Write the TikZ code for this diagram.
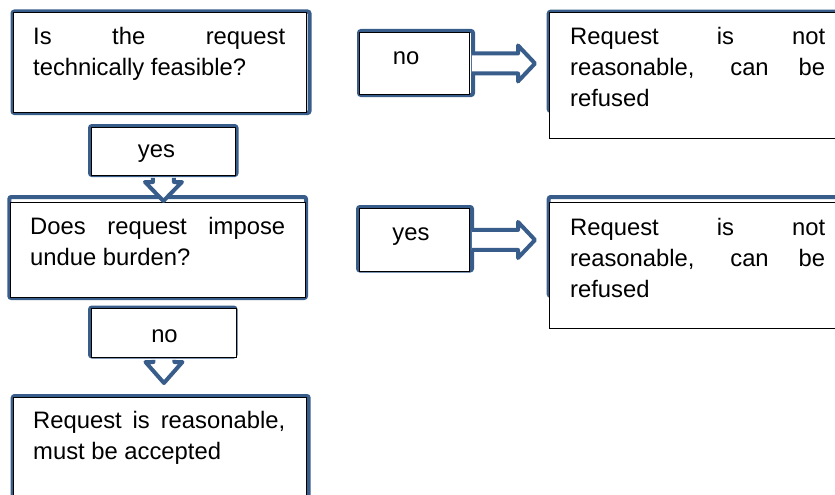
\documentclass[tikz,border=0pt]{standalone}
\usepackage{fontspec}
\setmainfont{Liberation Sans}
\usetikzlibrary{calc}
\definecolor{frameblue}{RGB}{56,93,138}
\tolerance=10000
\hbadness=10000
\hyphenpenalty=10000
\exhyphenpenalty=10000

\begin{document}
\begin{tikzpicture}[x=1pt,y=-1pt,
        frame/.style={draw=frameblue, line width=4pt, rounded corners=2pt},
        qbox/.style={draw=black, line width=0.9pt, fill=white, inner sep=0pt, anchor=north west},
        qtext/.style={inner sep=0pt, anchor=base west, text width=252pt, align=justify, font=\fontsize{23.8}{31}\selectfont},
        ans/.style={inner sep=0pt, anchor=base, font=\fontsize{23.8}{31}\selectfont},
        blockarrow/.style={draw=frameblue, line width=4pt, fill=white, line join=round}]
        \useasboundingbox (0,0) rectangle (835,495);
        \clip (0,0) rectangle (835,495);

        % blue frames behind the boxes
        \draw[frame] (12.5,11.5) rectangle (309.5,113);
        \draw[frame] (90,126) rectangle (236.5,175);
        \draw[frame] (9.3,197) rectangle (306,298);
        \draw[frame] (90,307.5) rectangle (235.5,356.5);
        \draw[frame] (12.7,396) rectangle (308.7,540);
        \draw[frame] (359,31) rectangle (473,95);
        \draw[frame] (548.7,11.7) rectangle (900,111);
        \draw[frame] (358,207) rectangle (472,270.5);
        \draw[frame] (548.7,197) rectangle (900,296);

        % boxes
        \node[qbox, minimum width=293, minimum height=100] (q1) at (13,12) {};
        \node[qbox, minimum width=144, minimum height=48] (yes1) at (91,127) {};
        \node[qbox, minimum width=295, minimum height=95] (q2) at (10,202) {};
        \node[qbox, minimum width=145, minimum height=49] (no2) at (91,308) {};
        \node[qbox, minimum width=293, minimum height=130] (q3) at (13,397) {};
        \node[qbox, minimum width=110, minimum height=62] (no1) at (359,32) {};
        \node[qbox, minimum width=330, minimum height=126] (r1) at (549,12) {};
        \node[qbox, minimum width=110, minimum height=63] (yes2) at (359,208) {};
        \node[qbox, minimum width=330, minimum height=126] (r2) at (549,202) {};

        % texts
        \node[qtext] (q1txt) at (33,45) {Is the request technically feasible?};
        \node[qtext, text width=255pt] (q2txt) at (30,234) {Does request impose undue burden?};
        \node[qtext] (q3txt) at (33,428) {Request is reasonable, must be accepted};
        \node[qtext, text width=255pt] (r1txt) at (570,45) {Request is not reasonable, can be refused};
        \node[qtext, text width=255pt] (r2txt) at (570,235) {Request is not reasonable, can be refused};
        \node[ans] (yes1txt) at (156.5,157) {yes};
        \node[ans] (no2txt) at (164.5,342) {no};
        \node[ans] (no1txt) at (406,64) {no};
        \node[ans] (yes2txt) at (411,240) {yes};

        % block arrows
        \coordinate (tip1) at ($(yes1.south |- q2.north)+(0,-1)$);
        \draw[blockarrow] ($(yes1.south)+(-10.5,2)$) |- ($(tip1)+(-18.5,-19)$) -- (tip1)
            -- ($(tip1)+(18.5,-19)$) -| ($(yes1.south)+(10.5,2)$);
        \coordinate (tip2) at ($(no2.south |- q3.north)+(0,-14)$);
        \draw[blockarrow] ($(no2.south)+(-10.5,2)$) |- ($(tip2)+(-18.5,-21)$) -- (tip2)
            -- ($(tip2)+(18.5,-21)$) -| ($(no2.south)+(10.5,2)$);
        \coordinate (tip3) at ($(no1.east -| r1.west)+(-14,0)$);
        \draw[blockarrow] ($(no1.east)+(2,-10)$) -| ($(tip3)+(-17,-18)$) -- (tip3)
            -- ($(tip3)+(-17,18)$) |- ($(no1.east)+(2,10)$);
        \coordinate (tip4) at ($(yes2.east -| r2.west)+(-14,0)$);
        \draw[blockarrow] ($(yes2.east)+(2,-10)$) -| ($(tip4)+(-17,-18)$) -- (tip4)
            -- ($(tip4)+(-17,18)$) |- ($(yes2.east)+(2,10)$);
    \end{tikzpicture}
\end{document}
